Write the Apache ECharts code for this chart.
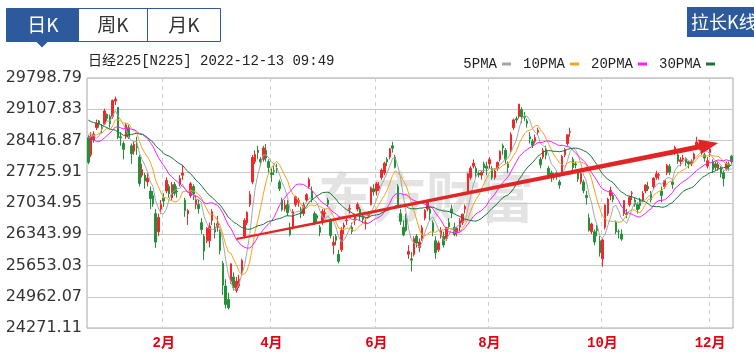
<!DOCTYPE html>
<html><head><meta charset="utf-8">
<script src="https://cdn.jsdelivr.net/npm/echarts@6/dist/echarts.min.js"></script>
<style>html,body{margin:0;padding:0;background:#fff}#c{width:754px;height:356px}</style>
</head><body><div id="c"></div>
<script>
// ---- data ----
const tradingDays = [
  ['2021-12',[20,21,22,23,24,27,28,29,30]],
  ['2022-01',[4,5,6,7,11,12,13,14,17,18,19,20,21,24,25,26,27,28,31]],
  ['2022-02',[1,2,3,4,7,8,9,10,14,15,16,17,18,21,22,24,25,28]],
  ['2022-03',[1,2,3,4,7,8,9,10,11,14,15,16,17,18,22,23,24,25,28,29,30,31]],
  ['2022-04',[1,4,5,6,7,8,11,12,13,14,15,18,19,20,21,22,25,26,27,28]],
  ['2022-05',[2,6,9,10,11,12,13,16,17,18,19,20,23,24,25,26,27,30,31]],
  ['2022-06',[1,2,3,6,7,8,9,10,13,14,15,16,17,20,21,22,23,24,27,28,29,30]],
  ['2022-07',[1,4,5,6,7,8,11,12,13,14,15,19,20,21,22,25,26,27,28,29]],
  ['2022-08',[1,2,3,4,5,8,9,10,12,15,16,17,18,19,22,23,24,25,26,29,30,31]],
  ['2022-09',[1,2,5,6,7,8,9,12,13,14,15,16,20,21,22,26,27,28,29,30]],
  ['2022-10',[3,4,5,6,7,11,12,13,14,17,18,19,20,21,24,25,26,27,28,31]],
  ['2022-11',[1,2,4,7,8,9,10,11,14,15,16,17,18,21,22,24,25,28,29,30]],
  ['2022-12',[1,2,5,6,7,8,9,12,13]]
];
// closes before the first visible day (for moving averages)
const priorCloses = [29611,29507,29285,29106,29277,29610,29776,29808,29688,29599,29745,29774,29302,29499,28751,28283,27821,27935,27753,28029,27927,28455,28860,28725,28437,28640,28432,28459,29066,28545];
// [open, close, low, high]
const dec21 = [[28480,27937,27893,28530],[28100,28517,28050,28600],[28430,28562,28370,28620],[28700,28798,28650,28880],[28850,28782,28700,28870],[28710,28676,28580,28780],[28780,29069,28760,29121],[29000,28906,28850,29010],[28950,28792,28700,28990]];
const jan22 = [[28950,29301,28900,29323],[29289,29332,29200,29388],[29150,28487,28450,29160],[28500,28479,28300,28600],[28350,28222,28000,28400],[28500,28765,28450,28800],[28700,28489,28450,28760],[28300,28124,27900,28350],[28180,28334,28100,28400],[28300,28257,28100,28500],[28050,27467,27400,28100],[27650,27772,27600,27900],[27650,27522,27350,27700],[27500,27588,27400,27700],[27300,27131,26900,27400],[27200,27011,26950,27300],[26800,26170,26044,26900],[26400,26717,26300,26800],[26900,27002,26800,27100]];
const feb22 = [[27150,27078,26950,27250],[27300,27533,27250,27600],[27400,27241,27150,27450],[27150,27440,27100,27500],[27450,27249,27200,27500],[27300,27284,27150,27400],[27450,27580,27400,27650],[27650,27696,27550,27880],[27100,26865,26730,27150],[26800,26866,26550,26900],[27200,27460,27150,27500],[27400,27232,27100,27450],[27000,27122,26900,27200],[27000,26910,26800,27100],[26600,26449,26350,26700],[26300,25971,25775,26350],[26200,26476,26150,26500],[26200,26527,26050,26600]];
const mar22 = [[26650,26844,26550,26900],[26500,26393,26250,26600],[26500,26577,26400,26750],[26400,25985,25900,26450],[25700,25221,25000,25750],[25200,24791,24700,25350],[24900,24717,24681,25050],[25300,25690,25250,25700],[25400,25163,25100,25500],[25100,25308,25050,25400],[25200,25346,25150,25450],[25500,25762,25450,25800],[26300,26652,26250,26700],[26600,26827,26550,26850],[27000,27224,26950,27300],[27500,28040,27450,28100],[27950,28110,27900,28200],[28200,28150,28000,28300],[28000,27943,27850,28050],[28000,28252,27950,28300],[28200,28027,27950,28338],[27950,27821,27700,28000]];
const apr22 = [[27700,27666,27500,27800],[27750,27736,27650,27850],[27800,27787,27700,27900],[27500,27350,27300,27550],[27100,26889,26850,27150],[26900,26986,26850,27100],[27000,26822,26750,27100],[26500,26335,26300,26600],[26500,26843,26450,26900],[27000,27172,26950,27200],[27050,27093,26950,27150],[26900,26800,26700,26950],[26800,26985,26750,27050],[27100,27218,27050,27250],[27400,27553,27350,27600],[27300,27105,27050,27400],[26800,26590,26550,26850],[26750,26700,26600,26800],[26500,26387,26300,26550],[26600,26848,26550,26900]];
const may22 = [[26800,26819,26700,26900],[27100,27004,26950,27150],[26650,26319,26250,26700],[26100,26167,25900,26300],[26300,26213,26100,26350],[25900,25748,25700,26000],[26000,26428,25950,26500],[26500,26547,26350,26600],[26650,26659,26550,26750],[26900,26911,26800,27000],[26500,26403,26350,26600],[26650,26739,26550,26800],[26900,27002,26850,27050],[26900,26749,26650,26950],[26750,26678,26600,26800],[26600,26605,26450,26700],[26750,26782,26700,26850],[27000,27370,26980,27400],[27350,27280,27200,27450]];
const jun22 = [[27300,27458,27200,27500],[27350,27413,27300,27500],[27600,27762,27550,27800],[27700,27916,27650,27950],[28000,27944,27850,28050],[28050,28234,28000,28250],[28300,28246,28150,28389],[28050,27824,27800,28100],[27400,26988,26950,27450],[26800,26630,26550,26900],[26500,26327,26300,26650],[26700,26431,26400,26800],[25900,25963,25800,26100],[25800,25771,25520,25950],[25900,26246,25850,26300],[26300,26149,26050,26350],[26050,26171,25950,26250],[26250,26491,26200,26550],[26700,26871,26650,26900],[26900,27049,26850,27100],[26900,26805,26650,26950],[26600,26393,26300,26650]];
const jul22 = [[26200,25936,25800,26300],[26000,26153,25950,26200],[26300,26423,26250,26500],[26300,26108,26050,26400],[26250,26491,26200,26500],[26600,26517,26450,26700],[26900,26812,26700,27000],[26500,26337,26300,26600],[26400,26478,26300,26500],[26500,26643,26400,26700],[26600,26788,26550,26800],[26900,26962,26800,27000],[27300,27680,27250,27700],[27600,27803,27550,27850],[27850,27915,27800,28000],[27800,27699,27600,27850],[27700,27655,27600,27750],[27650,27716,27550,27750],[27900,27815,27700,27950],[27850,27802,27650,27950]];
const aug22 = [[27900,27993,27800,28050],[27800,27595,27550,27850],[27600,27742,27550,27800],[27800,27932,27750,27950],[28000,28176,27950,28200],[28300,28250,28100,28350],[28200,27999,27900,28250],[27900,27819,27700,27950],[28200,28547,28150,28600],[28700,28872,28650,28900],[28900,28869,28800,28950],[28950,29223,28900,29223],[29100,28942,28800,29150],[28950,28930,28850,29050],[28850,28795,28700,28900],[28500,28452,28350,28600],[28400,28313,28250,28450],[28400,28479,28350,28550],[28600,28641,28550,28700],[28000,27879,27800,28050],[28050,28195,28000,28250],[28200,28092,28000,28300]];
const sep22 = [[27800,27661,27600,27850],[27700,27651,27500,27750],[27600,27620,27550,27700],[27700,27627,27550,27750],[27500,27431,27350,27550],[27700,28065,27650,28100],[28100,28215,28050,28250],[28350,28542,28300,28550],[28600,28614,28500,28700],[28000,27819,27750,28050],[27900,27876,27800,27950],[27700,27568,27500,27750],[27500,27689,27450,27750],[27500,27314,27250,27550],[27200,27154,27000,27300],[26700,26432,26400,26800],[26400,26572,26350,26600],[26400,26174,26100,26450],[26500,26423,26300,26550],[26200,25937,25850,26300]];
const oct22 = [[25800,26216,25622,26250],[26500,26992,26450,27000],[26800,27120,26750,27150],[27200,27311,27100,27400],[27200,27116,27050,27250],[26600,26401,26350,26650],[26400,26397,26250,26450],[26350,26237,26200,26450],[26800,27091,26750,27100],[26800,26776,26700,26900],[27000,27156,26950,27200],[27250,27257,27100,27300],[27100,27007,26950,27150],[27000,26891,26800,27050],[27100,26974,26900,27150],[27100,27250,27050,27300],[27300,27431,27250,27450],[27400,27346,27300,27500],[27250,27105,27050,27300],[27400,27587,27350,27600]];
const nov22 = [[27600,27679,27550,27750],[27650,27663,27550,27700],[27300,27200,27050,27400],[27400,27528,27350,27550],[27700,27872,27650,27900],[27850,27716,27650,27900],[27500,27446,27350,27550],[28150,28264,28100,28300],[28100,27963,27900,28150],[27950,27990,27850,28050],[28000,28029,27950,28100],[28000,27931,27850,28050],[27950,27899,27800,27950],[27900,27945,27850,28000],[28000,28116,27950,28150],[28300,28384,28250,28500],[28350,28284,28200,28400],[28200,28163,28100,28300],[28100,28028,27950,28150],[27850,27969,27800,28050]];
const dec22 = [[28150,28227,28050,28300],[27950,27778,27700,28000],[27900,27821,27750,27950],[27800,27886,27750,27950],[27800,27686,27600,27850],[27700,27574,27400,27750],[27800,27901,27750,27950],[27900,27842,27750,27950],[28070,27954,27900,28100]];

const yTicks = {min: 24271.11, max: 29798.79, step: 690.96};
const tickDates = ['2022-02-01','2022-04-01','2022-06-01','2022-08-01','2022-10-03','2022-12-01'];
const tickLabels = ['2月','4月','6月','8月','10月','12月'];
const maPeriods = [5, 10, 20, 30];
const maNames = ['5PMA','10PMA','20PMA','30PMA'];
const maColors = ['#a6a6a6','#f7a21b','#ff1aff','#17733a'];
const arrowFrom = ['2022-03-14', 26240];
const arrowTo = ['2022-12-06', 28360];

// ---- build ----
const categories = [];
tradingDays.forEach(([ym, days]) => days.forEach(d => categories.push(ym + '-' + String(d).padStart(2,'0'))));
const candles = [].concat(dec21, jan22, feb22, mar22, apr22, may22, jun22, jul22, aug22, sep22, oct22, nov22, dec22);
const allCloses = priorCloses.concat(candles.map(c => c[1]));
const off = priorCloses.length;
function ma(n) {
  return candles.map((_, i) => {
    let s = 0; const j = i + off;
    for (let k = j - n + 1; k <= j; k++) s += allCloses[k];
    return +(s / n).toFixed(2);
  });
}

const chart = echarts.init(document.getElementById('c'));
const maSeries = maPeriods.map((p, i) => ({
  name: maNames[i], type: 'line', data: ma(p), showSymbol: false, symbol: 'none', silent: true,
  lineStyle: {width: 1, color: maColors[i]}, itemStyle: {color: maColors[i]}, z: 3
}));

const blue = '#2c5a9c';
chart.setOption({
  animation: false,
  grid: {left: 87, right: 21, top: 78, bottom: 28, show: true, borderColor: '#a8a8a8', borderWidth: 1},
  legend: {
    data: maNames, right: 34, top: 52, align: 'right', icon: 'rect', itemWidth: 9, itemHeight: 3,
    itemGap: 12, selectedMode: false,
    textStyle: {fontFamily: '"Liberation Mono", monospace', fontSize: 14, color: '#222', padding: [0, 0, 0, 0]}
  },
  xAxis: {
    type: 'category', data: categories, boundaryGap: true,
    axisLine: {show: false}, axisTick: {show: false},
    axisLabel: {
      interval: (i, v) => tickDates.includes(v),
      formatter: v => tickLabels[tickDates.indexOf(v)] || '',
      color: '#e60012', fontSize: 14, margin: 8, fontWeight: 'bold',
      fontFamily: '"Liberation Mono", "Noto Sans CJK SC", monospace'
    },
    splitLine: {show: true, interval: (i, v) => tickDates.includes(v), lineStyle: {type: [4, 4], color: '#cfcfcf', width: 1}}
  },
  yAxis: {
    type: 'value', min: yTicks.min, max: yTicks.max, interval: yTicks.step, scale: true,
    axisLine: {show: false}, axisTick: {show: false},
    axisLabel: {formatter: v => v.toFixed(2), color: '#333', fontSize: 16, margin: 5, fontFamily: '"DejaVu Sans", sans-serif'},
    splitLine: {lineStyle: {color: '#c8c8c8', width: 1}}
  },
  graphic: [
    {type: 'text', left: 318, top: 170, z: -10, silent: true,
     style: {text: '东方财富', font: 'bold 54px "Noto Sans CJK SC"', fill: '#e3e3e3'}},
    {type: 'rect', shape: {x: 6.5, y: 8.5, width: 214, height: 33}, style: {fill: '#fff', stroke: blue, lineWidth: 1}},
    {type: 'rect', shape: {x: 6.5, y: 8.5, width: 72.5, height: 33}, style: {fill: blue}},
    {type: 'polygon', shape: {points: [[36, 41.5], [48, 41.5], [42, 47.5]]}, style: {fill: blue}},
    {type: 'line', shape: {x1: 147.5, y1: 8.5, x2: 147.5, y2: 41.5}, style: {stroke: blue, lineWidth: 1}},
    {type: 'text', x: 43, y: 25, style: {text: '日K', font: '19px "Noto Sans CJK SC"', fill: '#fff', textAlign: 'center', textVerticalAlign: 'middle'}},
    {type: 'text', x: 113, y: 25, style: {text: '周K', font: '19px "Noto Sans CJK SC"', fill: '#333', textAlign: 'center', textVerticalAlign: 'middle'}},
    {type: 'text', x: 184, y: 25, style: {text: '月K', font: '19px "Noto Sans CJK SC"', fill: '#333', textAlign: 'center', textVerticalAlign: 'middle'}},
    {type: 'rect', shape: {x: 687, y: 7, width: 70, height: 30}, style: {fill: blue}},
    {type: 'text', x: 691, y: 22, style: {text: '拉长K线', font: '18px "Noto Sans CJK SC"', fill: '#fff', textVerticalAlign: 'middle'}},
    {type: 'text', x: 88, y: 61, style: {text: '日经225[N225] 2022-12-13 09:49', font: '14px "Liberation Mono", "Noto Sans CJK SC", monospace', fill: '#222', textVerticalAlign: 'middle'}}
  ],
  series: [
    {
      name: 'K', type: 'candlestick', data: candles, barWidth: 2, silent: true, z: 2,
      itemStyle: {color: '#f0282a', color0: '#23913a', borderColor: '#f0282a', borderColor0: '#23913a', borderWidth: 1}
    },
    ...maSeries,
    {
      name: 'arrow', type: 'custom', silent: true, z: 10,
      data: [[categories.indexOf(arrowFrom[0]), arrowFrom[1], categories.indexOf(arrowTo[0]), arrowTo[1]]],
      encode: {x: [0, 2], y: [1, 3]},
      renderItem: (params, api) => {
        const p0 = api.coord([api.value(0), api.value(1)]);
        const p1 = api.coord([api.value(2), api.value(3)]);
        const dx = p1[0] - p0[0], dy = p1[1] - p0[1], L = Math.hypot(dx, dy);
        const ux = dx / L, uy = dy / L, nx = -uy, ny = ux;
        const headLen = 19, headHalf = 7.5, w0 = 1, w1 = 2.6;
        const bx = p1[0] - ux * headLen, by = p1[1] - uy * headLen;
        const pts = [
          [p0[0] + nx * w0, p0[1] + ny * w0], [bx + nx * w1, by + ny * w1], [bx + nx * headHalf, by + ny * headHalf],
          [p1[0], p1[1]], [bx - nx * headHalf, by - ny * headHalf], [bx - nx * w1, by - ny * w1], [p0[0] - nx * w0, p0[1] - ny * w0]
        ];
        return {type: 'polygon', shape: {points: pts}, style: {fill: '#e32424'}};
      }
    }
  ]
});
</script></body></html>
